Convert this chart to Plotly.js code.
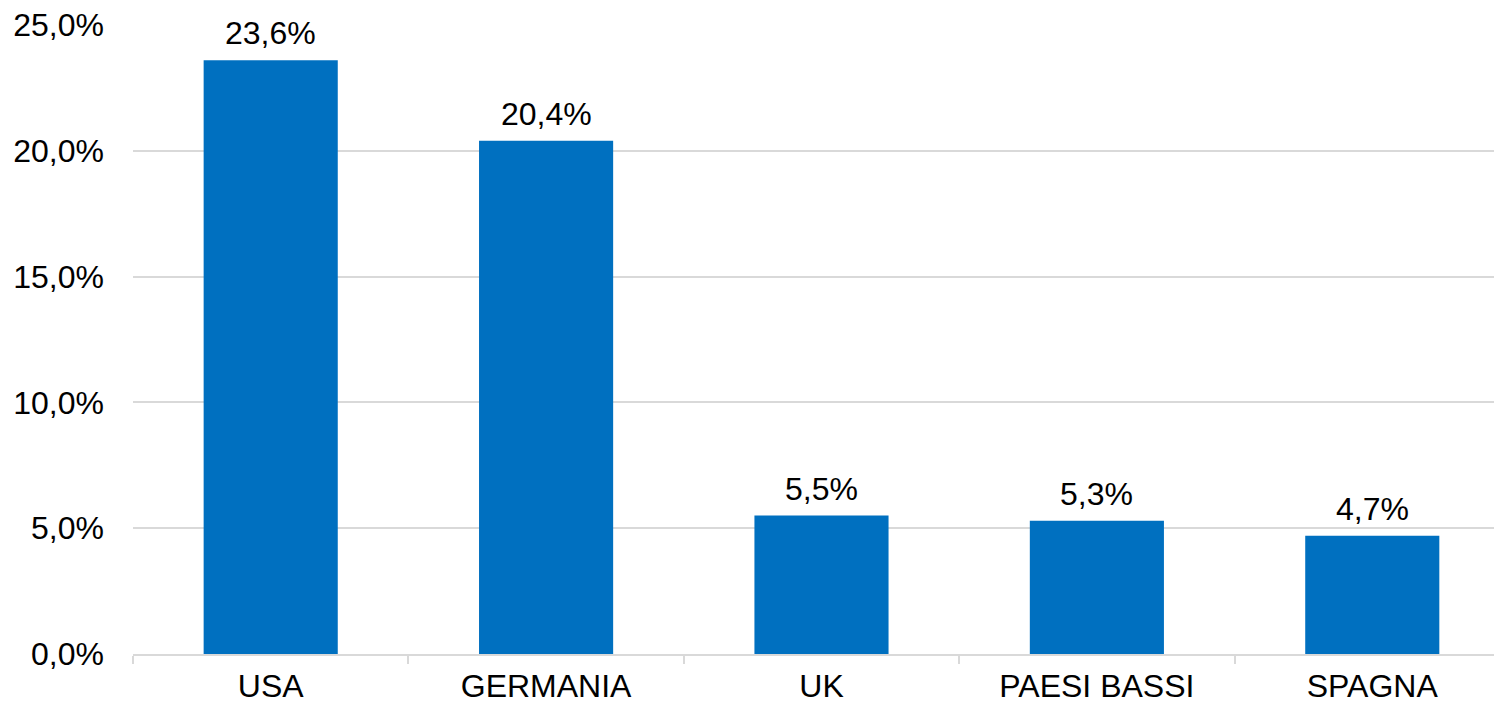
<!DOCTYPE html>
<html>
<head>
<meta charset="utf-8">
<script src="https://cdn.plot.ly/plotly-3.0.1.min.js"></script>
<style>
  html, body { margin: 0; padding: 0; background: #fff; overflow: hidden; }
  #graph { width: 1494px; height: 705px; }
</style>
</head>
<body>
<div id="graph"></div>
<script>
// paesi e quote (%)
const paesi = ['USA', 'GERMANIA', 'UK', 'PAESI BASSI', 'SPAGNA'];
const quote = [23.6, 20.4, 5.5, 5.3, 4.7];
const tickValori = [0, 5, 10, 15, 20, 25];

const font = "'Liberation Sans', Arial, sans-serif";
const fmt = v => v.toFixed(1).replace('.', ',') + '%';

const trace = {
    type: 'bar',
    x: paesi,
    y: quote,
    marker: { color: '#0070C0' },
    hoverinfo: 'skip'
};

// etichette sopra le barre
const etichette = paesi.map((p, i) => ({
    x: p,
    y: quote[i],
    xref: 'x',
    yref: 'y',
    text: fmt(quote[i]),
    showarrow: false,
    yanchor: 'bottom',
    yshift: 7,
    font: { family: font, size: 32, color: '#000' }
}));

const layout = {
    width: 1494,
    height: 705,
    paper_bgcolor: '#fff',
    plot_bgcolor: '#fff',
    showlegend: false,
    bargap: 0.513,
    margin: { l: 133, r: 0, t: 25, b: 51, pad: 0 },
    font: { family: font, size: 32, color: '#000' },
    annotations: etichette,
    xaxis: {
        type: 'category',
        range: [-0.5, 4.442],
        tickson: 'boundaries',
        ticks: 'outside',
        ticklen: 8,
        tickcolor: '#d9d9d9',
        tickwidth: 2,
        ticklabelstandoff: 3,
        showline: true,
        linecolor: '#d9d9d9',
        linewidth: 2,
        showgrid: false,
        tickfont: { family: font, size: 32, color: '#000' },
        fixedrange: true
    },
    yaxis: {
        range: [0, 25],
        tickvals: tickValori,
        ticktext: tickValori.map(fmt),
        showgrid: true,
        gridcolor: '#d9d9d9',
        gridwidth: 2,
        zeroline: false,
        showline: false,
        ticks: '',
        ticklabelstandoff: 28,
        tickfont: { family: font, size: 32, color: '#000' },
        fixedrange: true
    }
};

Plotly.newPlot('graph', [trace], layout, { displayModeBar: false, staticPlot: true });
</script>
</body>
</html>
